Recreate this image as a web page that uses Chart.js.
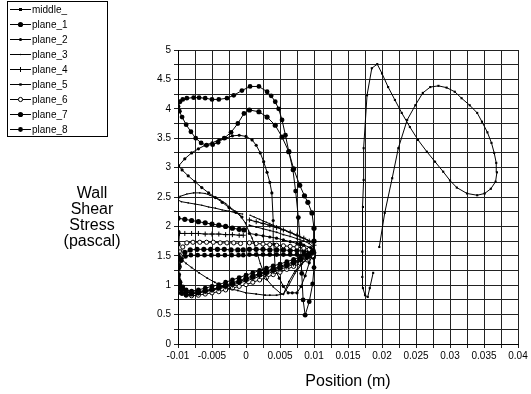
<!DOCTYPE html>
<html>
<head>
<meta charset="utf-8">
<script src="https://cdn.jsdelivr.net/npm/chart.js@4/dist/chart.umd.min.js"></script>
<style>
  html, body { margin: 0; padding: 0; background: #fff; }
  #wrap { position: relative; width: 531px; height: 394px; }
</style>
</head>
<body>
<div id="wrap"><canvas id="chart"></canvas></div>
<script>
// tick labels
const xTickLabels = ["-0.01", "-0.005", "0", "0.005", "0.01", "0.015", "0.02", "0.025", "0.03", "0.035", "0.04"];
const yTickLabels = ["0", "0.5", "1", "1.5", "2", "2.5", "3", "3.5", "4", "4.5", "5"];
const yTitleLines = ["Wall", "Shear", "Stress", "(pascal)"];
const seriesNames = ["middle_", "plane_1", "plane_2", "plane_3", "plane_4", "plane_5", "plane_6", "plane_7", "plane_8"];

// [position (m), wall shear stress (Pa)]
const middle_ = [
  [0.0187, 1.21], [0.0182, 0.95], [0.0179, 0.80], [0.0175, 0.83], [0.0172, 0.95], [0.0171, 1.14], [0.0171, 1.57],
  [0.0172, 2.33], [0.0173, 2.79], [0.0173, 3.33], [0.0178, 4.23], [0.0185, 4.69], [0.0193, 4.76], [0.0200, 4.60],
  [0.0209, 4.37], [0.0219, 4.15], [0.0229, 3.93], [0.0241, 3.69], [0.0253, 3.47], [0.0266, 3.27], [0.0278, 3.10],
  [0.0290, 2.93], [0.0300, 2.78], [0.0310, 2.66], [0.0325, 2.56], [0.0340, 2.53], [0.0351, 2.56], [0.0360, 2.64],
  [0.0367, 2.76], [0.0369, 2.92], [0.0368, 3.08], [0.0365, 3.25], [0.0361, 3.42], [0.0355, 3.60], [0.0347, 3.78],
  [0.0340, 3.93], [0.0329, 4.06], [0.0317, 4.18], [0.0307, 4.29], [0.0295, 4.36], [0.0283, 4.39], [0.0271, 4.37],
  [0.0260, 4.27], [0.0249, 4.06], [0.0237, 3.81], [0.0224, 3.33], [0.0215, 2.82], [0.0204, 2.23], [0.0196, 1.65]
];
const plane_1 = [
  [0.0005, 3.98], [0.0019, 3.95], [0.0031, 3.86], [0.0043, 3.72], [0.0053, 3.52], [0.0063, 3.27], [0.0070, 2.98],
  [0.0079, 2.70], [0.0086, 2.52], [0.0091, 2.41], [0.0097, 2.23], [0.0100, 1.97], [0.0100, 1.75], [0.0098, 1.58],
  [0.0090, 1.50], [0.0080, 1.45], [0.0070, 1.40], [0.0060, 1.36], [0.0050, 1.32], [0.0040, 1.28], [0.0030, 1.24],
  [0.0020, 1.20], [0.0010, 1.16], [0.0000, 1.12], [-0.0010, 1.08], [-0.0020, 1.04], [-0.0030, 1.00], [-0.0040, 0.96],
  [-0.0050, 0.93], [-0.0060, 0.90], [-0.0070, 0.87], [-0.0080, 0.85], [-0.0088, 0.84], [-0.0095, 0.87], [-0.0099, 0.95],
  [-0.0100, 1.10], [-0.0100, 1.30], [-0.0100, 1.50], [-0.0100, 1.70], [-0.0100, 1.90], [-0.0100, 2.14],
  [-0.0090, 2.12], [-0.0080, 2.10], [-0.0070, 2.08], [-0.0060, 2.06], [-0.0050, 2.04], [-0.0040, 2.02],
  [-0.0030, 2.00], [-0.0020, 1.97], [-0.0010, 1.95], [-0.0003, 1.94]
];
const plane_2 = [
  [0.0005, 1.88], [0.0015, 1.86], [0.0025, 1.84], [0.0035, 1.82], [0.0045, 1.80], [0.0055, 1.77], [0.0065, 1.74],
  [0.0075, 1.71], [0.0085, 1.68], [0.0095, 1.64], [0.0100, 1.60], [0.0093, 1.38], [0.0087, 1.16], [0.0081, 0.98],
  [0.0075, 0.87], [0.0068, 0.87], [0.0062, 0.87], [0.0055, 0.98], [0.0049, 1.12], [0.0043, 1.26], [0.0041, 1.70],
  [0.0040, 2.10], [0.0038, 2.57], [0.0035, 2.75], [0.0031, 2.92], [0.0026, 3.10], [0.0021, 3.25], [0.0015, 3.38],
  [0.0009, 3.47], [0.0000, 3.53], [-0.0010, 3.55], [-0.0020, 3.54], [-0.0030, 3.50], [-0.0040, 3.47], [-0.0050, 3.42],
  [-0.0060, 3.38], [-0.0070, 3.32], [-0.0080, 3.25], [-0.0090, 3.15], [-0.0099, 3.03], [-0.0094, 2.96], [-0.0085, 2.86],
  [-0.0075, 2.76], [-0.0065, 2.66], [-0.0055, 2.57], [-0.0045, 2.49], [-0.0035, 2.41], [-0.0025, 2.32], [-0.0015, 2.24],
  [-0.0006, 2.16]
];
const plane_3 = [
  [-0.0005, 2.21], [-0.0015, 2.23], [-0.0025, 2.26], [-0.0035, 2.28], [-0.0045, 2.31], [-0.0055, 2.33], [-0.0065, 2.36],
  [-0.0075, 2.38], [-0.0085, 2.40], [-0.0095, 2.42], [-0.0100, 2.45], [-0.0097, 2.51], [-0.0087, 2.55], [-0.0077, 2.57],
  [-0.0068, 2.57], [-0.0060, 2.56], [-0.0053, 2.53], [-0.0045, 2.49], [-0.0038, 2.45], [-0.0030, 2.39], [-0.0024, 2.33],
  [-0.0016, 2.26], [-0.0009, 2.19], [-0.0001, 2.06], [0.0004, 1.92], [0.0009, 1.80], [0.0015, 1.60], [0.0021, 1.37],
  [0.0026, 1.22], [0.0031, 1.09], [0.0040, 0.97], [0.0050, 0.87], [0.0055, 0.84], [0.0063, 1.00], [0.0072, 1.20],
  [0.0081, 1.34], [0.0090, 1.45], [0.0098, 1.55], [0.0100, 1.72], [0.0090, 1.77], [0.0080, 1.82], [0.0070, 1.87],
  [0.0060, 1.92], [0.0050, 1.97], [0.0040, 2.02], [0.0030, 2.07], [0.0020, 2.12], [0.0012, 2.16], [0.0006, 2.19]
];
const plane_4 = [
  [0.0005, 2.11], [0.0015, 2.08], [0.0025, 2.05], [0.0035, 2.02], [0.0045, 1.98], [0.0055, 1.94], [0.0065, 1.90],
  [0.0075, 1.85], [0.0085, 1.80], [0.0093, 1.75], [0.0100, 1.68], [0.0099, 1.55], [0.0090, 1.46], [0.0080, 1.41],
  [0.0070, 1.36], [0.0060, 1.31], [0.0050, 1.27], [0.0040, 1.23], [0.0030, 1.19], [0.0020, 1.15], [0.0010, 1.11],
  [0.0000, 1.07], [-0.0010, 1.04], [-0.0020, 1.00], [-0.0030, 0.97], [-0.0040, 0.94], [-0.0050, 0.91], [-0.0060, 0.89],
  [-0.0070, 0.87], [-0.0080, 0.87], [-0.0088, 0.88], [-0.0095, 0.95], [-0.0099, 1.10], [-0.0100, 1.35], [-0.0099, 1.60],
  [-0.0098, 1.88], [-0.0090, 1.88], [-0.0080, 1.88], [-0.0070, 1.88], [-0.0060, 1.87], [-0.0050, 1.87], [-0.0040, 1.87],
  [-0.0030, 1.86], [-0.0020, 1.86], [-0.0010, 1.85], [-0.0004, 1.85]
];
const plane_5 = [
  [0.0005, 2.02], [0.0015, 1.99], [0.0025, 1.96], [0.0035, 1.93], [0.0045, 1.90], [0.0055, 1.86], [0.0065, 1.83],
  [0.0075, 1.79], [0.0085, 1.75], [0.0093, 1.71], [0.0100, 1.63], [0.0097, 1.52], [0.0090, 1.45], [0.0081, 1.36],
  [0.0072, 1.24], [0.0063, 1.06], [0.0055, 0.85], [0.0045, 0.83], [0.0035, 0.83], [0.0028, 0.83], [0.0015, 0.85],
  [0.0000, 0.87], [-0.0012, 0.91], [-0.0024, 0.94], [-0.0035, 0.98], [-0.0046, 1.05], [-0.0057, 1.12], [-0.0069, 1.21],
  [-0.0080, 1.30], [-0.0088, 1.37], [-0.0094, 1.43], [-0.0099, 1.55], [-0.0100, 1.68]
];
const plane_6 = [
  [0.0005, 1.72], [0.0015, 1.71], [0.0025, 1.70], [0.0035, 1.69], [0.0045, 1.68], [0.0055, 1.67], [0.0065, 1.66],
  [0.0075, 1.65], [0.0085, 1.63], [0.0093, 1.61], [0.0099, 1.57], [0.0098, 1.50], [0.0090, 1.43], [0.0080, 1.37],
  [0.0070, 1.32], [0.0060, 1.27], [0.0050, 1.22], [0.0040, 1.18], [0.0030, 1.13], [0.0020, 1.09], [0.0010, 1.05],
  [0.0000, 1.01], [-0.0010, 0.98], [-0.0020, 0.95], [-0.0030, 0.92], [-0.0040, 0.89], [-0.0050, 0.87], [-0.0060, 0.85],
  [-0.0070, 0.83], [-0.0080, 0.82], [-0.0088, 0.83], [-0.0094, 0.86], [-0.0099, 0.95], [-0.0100, 1.10], [-0.0099, 1.30],
  [-0.0097, 1.50], [-0.0093, 1.65], [-0.0087, 1.72], [-0.0078, 1.73], [-0.0068, 1.73], [-0.0058, 1.73], [-0.0048, 1.73],
  [-0.0038, 1.72], [-0.0028, 1.72], [-0.0018, 1.72], [-0.0008, 1.71]
];
const plane_7 = [
  [0.0005, 1.61], [0.0015, 1.61], [0.0025, 1.61], [0.0035, 1.60], [0.0045, 1.60], [0.0055, 1.60], [0.0065, 1.59],
  [0.0075, 1.59], [0.0085, 1.58], [0.0093, 1.57], [0.0099, 1.54], [0.0099, 1.48], [0.0090, 1.48], [0.0080, 1.43],
  [0.0070, 1.38], [0.0060, 1.34], [0.0050, 1.30], [0.0040, 1.26], [0.0030, 1.22], [0.0020, 1.18], [0.0010, 1.14],
  [0.0000, 1.10], [-0.0010, 1.06], [-0.0020, 1.02], [-0.0030, 0.99], [-0.0040, 0.96], [-0.0050, 0.93], [-0.0060, 0.91],
  [-0.0070, 0.89], [-0.0080, 0.88], [-0.0088, 0.89], [-0.0094, 0.93], [-0.0098, 1.02], [-0.0100, 1.15], [-0.0099, 1.30],
  [-0.0096, 1.45], [-0.0090, 1.56], [-0.0082, 1.60], [-0.0072, 1.61], [-0.0062, 1.61], [-0.0052, 1.61], [-0.0042, 1.61],
  [-0.0032, 1.61], [-0.0022, 1.60], [-0.0012, 1.60], [-0.0004, 1.60]
];
const plane_8 = [
  [0.0005, 1.52], [0.0015, 1.52], [0.0025, 1.52], [0.0035, 1.52], [0.0045, 1.52], [0.0055, 1.52], [0.0065, 1.52],
  [0.0075, 1.52], [0.0085, 1.52], [0.0093, 1.52], [0.0099, 1.50], [0.0090, 1.52], [0.0080, 1.48], [0.0070, 1.44],
  [0.0060, 1.40], [0.0050, 1.36], [0.0040, 1.33], [0.0030, 1.29], [0.0020, 1.25], [0.0010, 1.21], [0.0000, 1.17],
  [-0.0010, 1.13], [-0.0020, 1.09], [-0.0030, 1.05], [-0.0040, 1.01], [-0.0050, 0.98], [-0.0060, 0.95], [-0.0070, 0.92],
  [-0.0080, 0.90], [-0.0088, 0.92], [-0.0093, 0.97], [-0.0097, 1.05], [-0.0099, 1.18], [-0.0098, 1.32], [-0.0095, 1.42],
  [-0.0089, 1.49], [-0.0081, 1.51], [-0.0071, 1.51], [-0.0061, 1.51], [-0.0051, 1.51], [-0.0041, 1.51], [-0.0031, 1.51],
  [-0.0021, 1.51], [-0.0011, 1.51], [-0.0004, 1.51],
  [0, null],
  [0.0100, 1.55], [0.0100, 1.30], [0.0098, 1.02], [0.0093, 0.72], [0.0087, 0.49], [0.0084, 0.75], [0.0082, 1.20],
  [0.0080, 1.70], [0.0077, 2.15], [0.0073, 2.60], [0.0069, 2.96], [0.0063, 3.27], [0.0058, 3.55], [0.0053, 3.81],
  [0.0048, 4.00], [0.0043, 4.12], [0.0037, 4.22], [0.0031, 4.29], [0.0019, 4.38], [0.0006, 4.38], [-0.0006, 4.31],
  [-0.0018, 4.23], [-0.0028, 4.18], [-0.0040, 4.16], [-0.0050, 4.16], [-0.0060, 4.18], [-0.0069, 4.19], [-0.0077, 4.19],
  [-0.0087, 4.18], [-0.0093, 4.16], [-0.0097, 4.12], [-0.0100, 4.04], [-0.0098, 3.96], [-0.0094, 3.86], [-0.0088, 3.73],
  [-0.0081, 3.61], [-0.0074, 3.50], [-0.0066, 3.42], [-0.0058, 3.38], [-0.0049, 3.39], [-0.0041, 3.43], [-0.0032, 3.50],
  [-0.0022, 3.60], [-0.0012, 3.75], [-0.0003, 3.92]
];

const seriesData = [middle_, plane_1, plane_2, plane_3, plane_4, plane_5, plane_6, plane_7, plane_8];

// marker look per series (Excel-ish)
const markers = [
  { style: "rect", r: 1.5, fill: "#000", bw: 0 },
  { style: "circle", r: 2.6, fill: "#000", bw: 0 },
  { style: "circle", r: 1.6, fill: "#000", bw: 0 },
  { style: "circle", r: 0.8, fill: "#000", bw: 0 },
  { style: "cross", r: 2.5, fill: "#000", bw: 1 },
  { style: "rect", r: 1.2, fill: "#000", bw: 0 },
  { style: "circle", r: 2.1, fill: "#fff", bw: 1 },
  { style: "circle", r: 2.6, fill: "#000", bw: 0 },
  { style: "circle", r: 2.4, fill: "#000", bw: 0 }
];

const datasets = seriesNames.map((name, i) => ({
  label: name,
  data: seriesData[i],
  showLine: true,
  borderColor: "#000",
  borderWidth: 1,
  tension: 0,
  spanGaps: false,
  pointStyle: markers[i].style,
  pointRadius: markers[i].r,
  pointBackgroundColor: markers[i].fill,
  pointBorderColor: "#000",
  pointBorderWidth: markers[i].bw
}));

function drawMarker(ctx, m, x, y) {
  ctx.save();
  ctx.fillStyle = m.fill;
  ctx.strokeStyle = "#000";
  ctx.lineWidth = 1;
  if (m.style === "circle") {
    ctx.beginPath();
    ctx.arc(x, y, m.r, 0, Math.PI * 2);
    ctx.fill();
    if (m.bw) ctx.stroke();
  } else if (m.style === "rect") {
    ctx.fillRect(x - m.r, y - m.r, m.r * 2, m.r * 2);
  } else if (m.style === "cross") {
    ctx.beginPath();
    ctx.moveTo(x - m.r, y); ctx.lineTo(x + m.r, y);
    ctx.moveTo(x, y - m.r); ctx.lineTo(x, y + m.r);
    ctx.stroke();
  }
  ctx.restore();
}

// legend box and the horizontal y title, drawn like Excel does
const extras = {
  id: "extras",
  afterDraw(chart) {
    const ctx = chart.ctx;
    ctx.save();
    ctx.strokeStyle = "#000";
    ctx.lineWidth = 1;
    ctx.strokeRect(7.5, 1.5, 100, 135);
    ctx.font = "10px 'Liberation Sans', Arial, sans-serif";
    ctx.fillStyle = "#000";
    ctx.textBaseline = "middle";
    ctx.textAlign = "left";
    seriesNames.forEach((name, i) => {
      const y = 9 + i * 15;
      ctx.beginPath();
      ctx.moveTo(10, y + 0.5);
      ctx.lineTo(31, y + 0.5);
      ctx.stroke();
      drawMarker(ctx, markers[i], 20.5, y + 0.5);
      ctx.fillText(name, 32, y + 1);
    });
    ctx.font = "16px 'Liberation Sans', Arial, sans-serif";
    ctx.textAlign = "center";
    yTitleLines.forEach((t, i) => ctx.fillText(t, 92, 194 + i * 16));
    ctx.restore();
  }
};

function labelAt(value, start, step, labels) {
  const k = Math.round((value - start) / step);
  if (Math.abs(start + k * step - value) > step * 1e-3) return "";
  return labels[k] || "";
}

new Chart(document.getElementById("chart"), {
  type: "scatter",
  data: { datasets },
  options: {
    responsive: true,
    maintainAspectRatio: false,
    animation: false,
    events: [],
    layout: { padding: { left: 0, right: 13, top: 50, bottom: 0 } },
    plugins: { legend: { display: false }, tooltip: { enabled: false } },
    scales: {
      x: {
        type: "linear",
        min: -0.01,
        max: 0.04,
        afterFit: (s) => { s.height = 50; },
        grid: { color: "#222", lineWidth: 1, tickLength: 4 },
        border: { color: "#000" },
        ticks: {
          stepSize: 0.0025,
          autoSkip: false,
          maxRotation: 0,
          padding: 2,
          color: "#000",
          font: { family: "'Liberation Sans', Arial, sans-serif", size: 10 },
          callback: (v) => labelAt(v, -0.01, 0.005, xTickLabels)
        },
        title: {
          display: true,
          text: "Position (m)",
          color: "#000",
          font: { family: "'Liberation Sans', Arial, sans-serif", size: 16 },
          padding: { top: 4, bottom: 3 }
        }
      },
      y: {
        type: "linear",
        min: 0,
        max: 5,
        afterFit: (s) => { s.width = 178; },
        grid: { color: "#222", lineWidth: 1, tickLength: 4 },
        border: { color: "#000" },
        ticks: {
          stepSize: 0.25,
          autoSkip: false,
          padding: 3,
          color: "#000",
          font: { family: "'Liberation Sans', Arial, sans-serif", size: 10 },
          callback: (v) => labelAt(v, 0, 0.5, yTickLabels)
        }
      }
    }
  },
  plugins: [extras]
});
</script>
</body>
</html>
